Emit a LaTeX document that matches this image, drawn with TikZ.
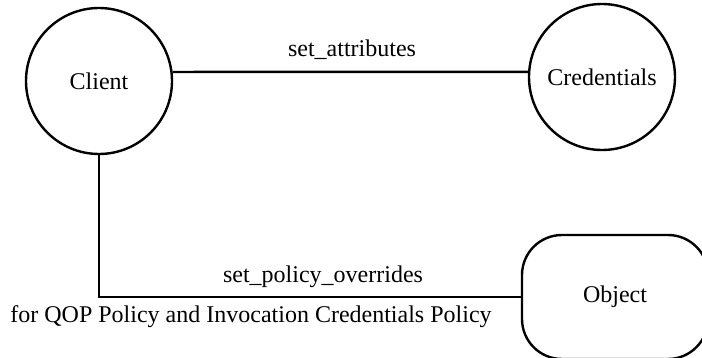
\documentclass[tikz,border=0pt]{standalone}
\usepackage{fontspec}
\setmainfont{Liberation Serif}
\usetikzlibrary{positioning}

\begin{document}
\begin{tikzpicture}[x=0.5pt, y=-0.5pt, line width=1.2pt,
    font=\fontsize{12pt}{14pt}\selectfont,
    party/.style={circle, draw, minimum size=73pt, inner sep=0pt},
    target/.style={rectangle, draw, rounded corners=20pt, minimum width=93pt, minimum height=62pt}]
    \useasboundingbox (0,0) rectangle (702,358);

    % Client and Credentials
    \node[party] (client) at (99,81) {Client};
    \node[party] (creds) at (602,77) {Credentials};

    % Object
    \node[target] (object) at (615,297) {Object};

    % Labels
    \node (attr) at (352,50) {set\_attributes};
    \node (policy) at (323,277) {set\_policy\_overrides};
    \node (note) at (251,317) {for QOP Policy and Invocation Credentials Policy};

    % Lines
    \draw (client.7) -- (creds.176);
    \draw (client.south) |- (object.west);

\end{tikzpicture}
\end{document}
